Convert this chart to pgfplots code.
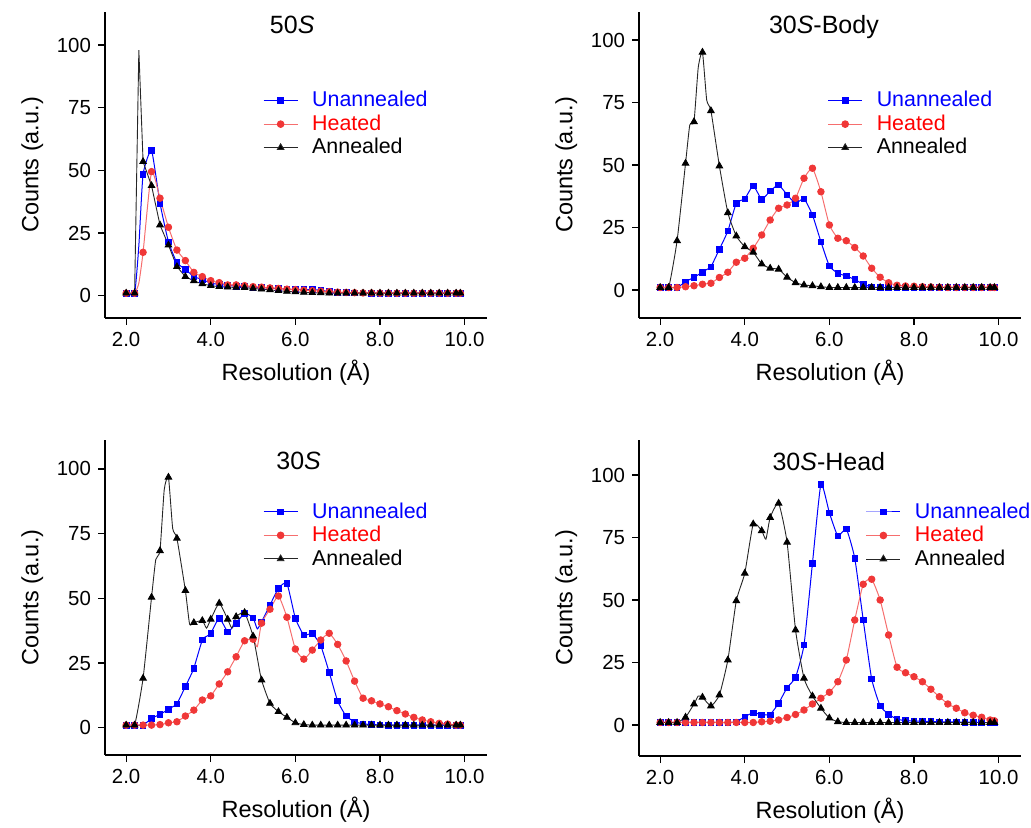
\documentclass[border=0pt]{standalone}
\usepackage{pgfplots}
\pgfplotsset{compat=1.18}
\usepackage{pgfplotstable}
\usepackage{fontspec}
\setmainfont{Liberation Sans}
\definecolor{cblue}{RGB}{0,0,255}
\definecolor{cred}{RGB}{240,55,55}
\definecolor{lred}{RGB}{246,110,110}
\definecolor{tred}{RGB}{255,0,0}

\pgfplotstableread{
x u h a m
2.0 1 1 1 1
2.2 1 1 1 1
2.3 20 5 98 0
2.4 48.4 17.3 53.5 1
2.6 57.9 49.5 43.9 1
2.8 36.9 38.9 28.2 1
3.0 21.5 27.3 20.2 1
3.2 13.2 18.2 11.6 1
3.4 10.5 14.0 7.6 1
3.6 7.6 9.3 5.9 1
3.8 6.5 7.6 4.7 1
4.0 5.0 6.0 4.0 1
4.2 4.5 5.2 3.6 1
4.4 4.1 4.3 3.4 1
4.6 3.8 4.3 3.3 1
4.8 3.6 4.0 3.2 1
5.0 3.4 3.6 2.9 1
5.2 3.2 3.4 2.6 1
5.4 3.0 3.1 2.3 1
5.6 2.8 2.9 2.0 1
5.8 2.6 2.6 1.7 1
6.0 2.5 2.4 1.5 1
6.2 2.5 2.2 1.3 1
6.4 2.4 2.0 1.2 1
6.6 2.2 1.8 1.1 1
6.8 1.6 1.6 1.0 1
7.0 1.3 1.4 1.0 1
7.2 1.2 1.3 1.0 1
7.4 1.1 1.2 1.0 1
7.6 1.1 1.1 1.0 1
7.8 1.0 1.1 1.0 1
8.0 1.0 1.0 1.0 1
8.2 1.0 1.0 1.0 1
8.4 1.0 1.0 1.0 1
8.6 1.0 1.0 1.0 1
8.8 1.0 1.0 1.0 1
9.0 1.0 1.0 1.0 1
9.2 1.0 1.0 1.0 1
9.4 1.0 1.0 1.0 1
9.6 1.0 1.0 1.0 1
9.8 1.0 1.0 1.0 1
9.9 1.0 1.0 1.0 1
}\tabTL

\pgfplotstableread{
x u h a m
2.0 1 1 1 1
2.2 1 1 1 1
2.4 1 1 19.7 1
2.6 3.3 1.3 50.7 1
2.7 4.2 1.5 66 0
2.8 5.1 1.7 67.3 1
2.9 6.1 2.0 89 0
3.0 7.1 2.3 95.1 1
3.1 8.2 2.5 76 0
3.2 9.3 2.7 71.7 1
3.4 16.3 5.0 49.6 1
3.6 23.6 7.1 30.9 1
3.8 34.7 11.1 21.6 1
4.0 36.5 12.7 17.3 1
4.2 41.7 16.7 15.1 1
4.4 36.3 22.0 10.4 1
4.6 39.6 28.0 8.7 1
4.8 42.0 32.7 8.3 1
5.0 38.1 34.0 5.1 1
5.2 34.7 36.7 2.9 1
5.4 36.5 44.7 2.0 1
5.6 30.0 48.7 1.7 1
5.8 19.3 39.3 1.3 1
6.0 9.6 26.0 1.0 1
6.2 6.7 20.7 1 1
6.4 5.6 19.7 1 1
6.6 4.2 17.0 1 1
6.8 2.3 13.6 1 1
7.0 1.2 8.7 1 1
7.2 1 5.1 1 1
7.4 1 2.9 1 1
7.6 1 1.9 1 1
7.8 1 1.6 1 1
8.0 1 1.5 1 1
8.2 1 1.3 1 1
8.4 1 1.2 1 1
8.6 1 1.1 1 1
8.8 1 1 1 1
9.0 1 1 1 1
9.2 1 1 1 1
9.4 1 1 1 1
9.6 1 1 1 1
9.8 1 1 1 1
9.9 1 1 1 1
}\tabTR

\pgfplotstableread{
x u h a m
2.0 1 1 1 1
2.2 1 1 1 1
2.4 1 1 19.1 1
2.6 3.6 1 50.4 1
2.7 4.4 1.1 65 0
2.8 5.2 1.2 68.4 1
2.9 6.1 1.5 92 0
3.0 7.1 1.9 96.8 1
3.1 8.1 2.1 77 0
3.2 9.2 2.3 73.2 1
3.4 15.9 4.5 53.0 1
3.5 19.3 5.6 40 0
3.6 23.0 6.8 40.6 1
3.8 33.9 10.7 41.4 1
3.9 35.3 11.5 38.5 0
4.0 36.5 12.3 41.9 1
4.2 42.3 16.9 48.1 1
4.4 37.0 21.6 41.9 1
4.5 38.5 24.5 38.5 0
4.6 40.4 27.4 42.9 1
4.8 44.2 33.6 44.5 1
5.0 42.5 34.2 35.4 1
5.1 38.2 31.3 27 0
5.2 40.9 40.4 18.4 1
5.4 47.4 45.8 9.4 1
5.6 53.9 50.9 6.2 1
5.8 55.8 42.7 4.0 1
6.0 42.3 30.4 1.9 1
6.2 35.8 26.5 1.2 1
6.4 36.4 30.0 1 1
6.6 31.7 33.9 1 1
6.8 21.4 36.5 1 1
7.0 10.3 32.2 1 1
7.2 4.5 25.8 1 1
7.4 2.3 18.0 1 1
7.6 1.5 11.4 1 1
7.8 1.2 10.4 1 1
8.0 1.1 9.2 1 1
8.2 1.0 8.1 1 1
8.4 1 6.6 1 1
8.6 1 5.3 1 1
8.8 1 4.0 1 1
9.0 1 3.0 1 1
9.2 1 2.3 1 1
9.4 1 1.7 1 1
9.6 1 1.4 1 1
9.8 1 1.0 1 1
9.9 1 1.0 1 1
}\tabBL

\pgfplotstableread{
x u h a m
2.0 1 1 1 1
2.2 1 1 1 1
2.4 1 1 1 1
2.6 1 1 3.1 1
2.8 1 1 8.4 1
2.9 1 1 11.6 0
3.0 1 1 11.1 1
3.2 1 1 7.6 1
3.4 1 1 12.0 1
3.6 1 1 26.0 1
3.8 1.3 1 49.7 1
4.0 3.3 1 60.7 1
4.2 4.9 1 80.4 1
4.4 4.1 1.3 77.7 1
4.5 4.1 1.4 74.3 0
4.6 4.1 1.5 83.0 1
4.8 8.7 2.0 88.7 1
5.0 14.9 3.0 73.1 1
5.2 19.1 4.2 38.0 1
5.4 32.0 6.0 18.7 1
5.6 64.7 8.4 11.6 1
5.8 96.3 10.7 6.7 1
6.0 84.9 13.1 2.8 1
6.2 75.6 17.3 1.3 1
6.4 78.4 26.0 1 1
6.6 66.7 42.0 1 1
6.8 42.0 56.3 1 1
7.0 18.4 58.3 1 1
7.2 7.7 50.0 1 1
7.4 4.3 36.0 1 1
7.6 2.3 23.1 1 1
7.8 1.8 20.9 1 1
8.0 1.6 19.3 1 1
8.2 1.5 17.3 1 1
8.4 1.4 14.3 1 1
8.6 1.3 11.3 1 1
8.8 1.2 8.4 1 1
9.0 1.2 6.7 1 1
9.2 1.1 4.9 1 1
9.4 1.1 3.9 1 1
9.6 1 3.1 1 1
9.8 1 2.0 1 1
9.9 1 1.7 1 1
}\tabBR

\pgfplotsset{
  panel/.style={
    scale only axis, width=191pt,
    xmin=1.5, xmax=10.53,
    axis lines=left, axis line style={-, line width=0.65pt},
    every tick/.style={black, line width=0.65pt},
    tick align=outside, major tick length=3.5pt,
    xtick={2,4,6,8,10}, xticklabels={2.0,4.0,6.0,8.0,10.0},
    ytick={0,25,50,75,100},
    /pgf/number format/assume math mode=true,
    ticklabel style={font=\fontsize{10.2}{12}\selectfont},
    xlabel={Resolution (Å)}, ylabel={Counts (a.u.)},
    label style={font=\fontsize{11.75}{14}\selectfont},
    legend style={draw=none, fill=none, anchor=north west,
      font=\fontsize{10.7}{12}\selectfont, row sep=-1.5pt},
    legend cell align=left,
    clip=false,
  },
  lb/.style={cblue, line width=0.5pt, smooth, tension=0.3, forget plot},
  lr/.style={lred, line width=0.5pt, smooth, tension=0.3, forget plot},
  la/.style={black!85, line width=0.45pt, smooth, tension=0.3, forget plot},
  mb/.style={only marks, forget plot, mark=square*, mark size=1.4pt, mark options={cblue, draw=cblue, fill=cblue}},
  mr/.style={only marks, forget plot, mark=*, mark size=1.65pt, mark options={draw=cred, fill=cred}},
  ma/.style={only marks, forget plot, mark=triangle*, mark size=1.9pt, mark options={draw=black, fill=black}},
  sel/.style={restrict expr to domain={\thisrow{m}}{0.5:1.5}},
}

% #1 table, #2 extra style for the Annealed line
\newcommand\series[2]{%
  \addplot[lb] table[x=x,y=u]{#1};
  \addplot[mb, sel] table[x=x,y=u]{#1};
  \addplot[lr] table[x=x,y=h]{#1};
  \addplot[mr, sel] table[x=x,y=h]{#1};
  \addplot[la, #2] table[x=x,y=a]{#1};
  \addplot[ma, sel] table[x=x,y=a]{#1};
  \addlegendimage{cblue, line width=0.5pt, mark=square*, mark size=1.4pt}
  \addlegendentry{\hspace*{5pt}\textcolor{cblue}{Unannealed}}
  \addlegendimage{lred, line width=0.5pt, mark=*, mark size=1.65pt, mark options={draw=cred, fill=cred}}
  \addlegendentry{\hspace*{5pt}\textcolor{tred}{Heated}}
  \addlegendimage{black!85, line width=0.45pt, mark=triangle*, mark size=1.9pt, mark options={fill=black}}
  \addlegendentry{\hspace*{5pt}Annealed}
}

\begin{document}
\begin{tikzpicture}
\path[use as bounding box] (0,0) rectangle (515.5pt,414pt);

% top left
\begin{axis}[panel, at={(52.5pt,255pt)}, anchor=south west, height=153pt,
  ymin=-8.9, ymax=113.2, legend style={at={(rel axis cs:0.397,0.768)}}]
\series{\tabTL}{sharp plot}
\node[anchor=base, font=\fontsize{12.5}{14}\selectfont] at (rel axis cs:0.49,0.93) {50\textit{S}};
\end{axis}

% top right
\begin{axis}[panel, at={(319.5pt,255pt)}, anchor=south west, height=153pt,
  ymin=-11.2, ymax=111.2, legend style={at={(rel axis cs:0.477,0.768)}}]
\series{\tabTR}{}
\node[anchor=base, font=\fontsize{12.5}{14}\selectfont] at (rel axis cs:0.484,0.93) {30\textit{S}-Body};
\end{axis}

% bottom left
\begin{axis}[panel, at={(52.5pt,36.5pt)}, anchor=south west, height=157.5pt,
  ymin=-10.55, ymax=111.2, legend style={at={(rel axis cs:0.397,0.828)}}]
\series{\tabBL}{}
\node[anchor=base, font=\fontsize{12.5}{14}\selectfont] at (rel axis cs:0.507,0.907) {30\textit{S}};
\end{axis}

% bottom right
\begin{axis}[panel, at={(319.5pt,36pt)}, anchor=south west, height=158pt,
  ymin=-12.4, ymax=114, legend style={at={(rel axis cs:0.577,0.828)}}]
\series{\tabBR}{}
\node[anchor=base, font=\fontsize{12.5}{14}\selectfont] at (rel axis cs:0.497,0.903) {30\textit{S}-Head};
\end{axis}
\end{tikzpicture}
\end{document}
